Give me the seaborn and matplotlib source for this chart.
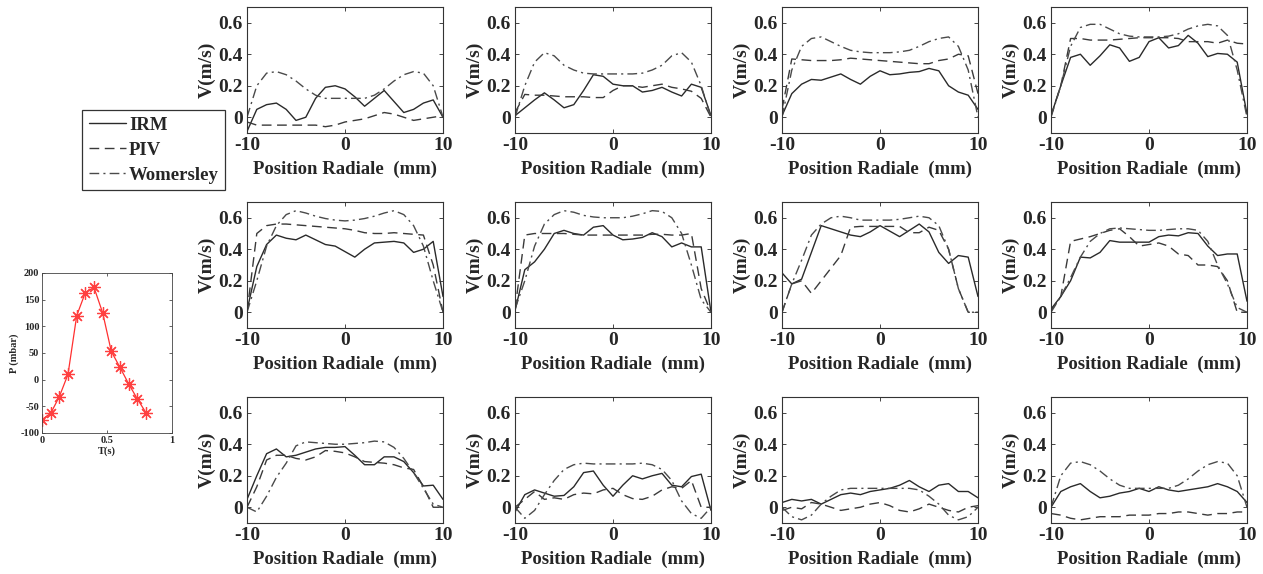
import numpy as np
import pandas as pd
import matplotlib
matplotlib.use("Agg")
import matplotlib.pyplot as plt
import seaborn as sns

# ---------------- data ----------------
X = [-10, -9, -8, -7, -6, -5, -4, -3, -2, -1, 0, 1, 2, 3, 4, 5, 6, 7, 8, 9, 10]

irm_1 = [-0.09, 0.05, 0.08, 0.09, 0.05, -0.02, 0.0, 0.12, 0.19, 0.2, 0.18, 0.13, 0.07, 0.12, 0.17, 0.1, 0.03, 0.05, 0.09, 0.11, 0.0]
piv_1 = [-0.03, -0.05, -0.05, -0.05, -0.05, -0.05, -0.05, -0.05, -0.06, -0.05, -0.03, -0.02, -0.01, 0.01, 0.03, 0.02, 0.0, -0.02, -0.01, 0.0, 0.01]
wom_1 = [0.0, 0.2, 0.28, 0.29, 0.27, 0.23, 0.18, 0.14, 0.12, 0.12, 0.12, 0.12, 0.12, 0.14, 0.18, 0.23, 0.27, 0.29, 0.28, 0.2, 0.0]

irm_2 = [0.01, 0.06, 0.11, 0.155, 0.11, 0.06, 0.08, 0.17, 0.27, 0.26, 0.21, 0.2, 0.2, 0.16, 0.17, 0.19, 0.16, 0.135, 0.21, 0.19, 0.01]
piv_2 = [0.03, 0.145, 0.14, 0.14, 0.135, 0.13, 0.13, 0.13, 0.125, 0.125, 0.17, 0.2, 0.2, 0.19, 0.2, 0.21, 0.19, 0.18, 0.165, 0.12, 0.0]
wom_2 = [0.0, 0.2, 0.35, 0.41, 0.39, 0.33, 0.3, 0.28, 0.275, 0.275, 0.275, 0.275, 0.275, 0.28, 0.3, 0.33, 0.39, 0.41, 0.35, 0.2, 0.0]

irm_3 = [0.01, 0.15, 0.21, 0.24, 0.235, 0.255, 0.275, 0.24, 0.21, 0.26, 0.295, 0.27, 0.275, 0.285, 0.29, 0.31, 0.295, 0.2, 0.16, 0.14, 0.05]
piv_3 = [0.05, 0.37, 0.365, 0.36, 0.36, 0.36, 0.365, 0.375, 0.37, 0.365, 0.36, 0.355, 0.35, 0.345, 0.34, 0.34, 0.36, 0.37, 0.4, 0.39, 0.15]
wom_3 = [0.0, 0.3, 0.45, 0.5, 0.51, 0.48, 0.45, 0.425, 0.415, 0.41, 0.41, 0.41, 0.415, 0.425, 0.45, 0.48, 0.5, 0.51, 0.45, 0.3, 0.0]

irm_4 = [0.01, 0.2, 0.38, 0.4, 0.33, 0.39, 0.46, 0.44, 0.355, 0.38, 0.48, 0.505, 0.44, 0.455, 0.52, 0.47, 0.385, 0.405, 0.4, 0.35, 0.02]
piv_4 = [0.01, 0.2, 0.5, 0.5, 0.49, 0.49, 0.49, 0.495, 0.5, 0.505, 0.505, 0.505, 0.505, 0.5, 0.48, 0.48, 0.48, 0.47, 0.49, 0.47, 0.465]
wom_4 = [0.0, 0.2, 0.45, 0.57, 0.59, 0.59, 0.56, 0.53, 0.515, 0.51, 0.51, 0.51, 0.515, 0.53, 0.56, 0.58, 0.59, 0.58, 0.52, 0.3, 0.0]

irm_5 = [0.01, 0.29, 0.43, 0.49, 0.47, 0.46, 0.49, 0.46, 0.43, 0.42, 0.385, 0.35, 0.4, 0.44, 0.445, 0.45, 0.44, 0.38, 0.4, 0.45, 0.1]
piv_5 = [0.0, 0.5, 0.55, 0.56, 0.56, 0.555, 0.55, 0.545, 0.54, 0.535, 0.53, 0.52, 0.505, 0.5, 0.5, 0.505, 0.5, 0.495, 0.49, 0.3, 0.0]
wom_5 = [0.0, 0.2, 0.42, 0.55, 0.62, 0.645, 0.63, 0.61, 0.595, 0.585, 0.58, 0.585, 0.595, 0.61, 0.63, 0.645, 0.62, 0.55, 0.42, 0.2, 0.0]

irm_6 = [0.01, 0.27, 0.32, 0.4, 0.5, 0.52, 0.5, 0.49, 0.54, 0.55, 0.49, 0.46, 0.465, 0.475, 0.505, 0.48, 0.415, 0.44, 0.415, 0.415, 0.0]
piv_6 = [0.02, 0.49, 0.5, 0.5, 0.5, 0.5, 0.495, 0.49, 0.49, 0.49, 0.49, 0.49, 0.49, 0.49, 0.495, 0.495, 0.49, 0.49, 0.5, 0.15, 0.0]
wom_6 = [0.02, 0.2, 0.42, 0.56, 0.62, 0.645, 0.635, 0.615, 0.605, 0.6, 0.6, 0.6, 0.61, 0.625, 0.645, 0.64, 0.6, 0.5, 0.3, 0.08, 0.0]

irm_7 = [0.25, 0.18, 0.21, 0.38, 0.55, 0.53, 0.51, 0.49, 0.48, 0.51, 0.55, 0.515, 0.48, 0.52, 0.56, 0.51, 0.38, 0.31, 0.36, 0.35, 0.1]
piv_7 = [0.0, 0.18, 0.2, 0.12, 0.2, 0.28, 0.36, 0.54, 0.545, 0.545, 0.545, 0.545, 0.545, 0.505, 0.505, 0.54, 0.52, 0.4, 0.15, 0.0, 0.0]
wom_7 = [0.0, 0.18, 0.33, 0.49, 0.56, 0.6, 0.61, 0.6, 0.585, 0.585, 0.585, 0.585, 0.59, 0.6, 0.61, 0.6, 0.55, 0.4, 0.15, 0.0, 0.0]

irm_8 = [0.02, 0.1, 0.2, 0.35, 0.345, 0.38, 0.455, 0.445, 0.445, 0.445, 0.445, 0.48, 0.49, 0.485, 0.505, 0.5, 0.42, 0.36, 0.37, 0.37, 0.07]
piv_8 = [0.01, 0.1, 0.45, 0.465, 0.48, 0.5, 0.52, 0.53, 0.48, 0.42, 0.43, 0.44, 0.42, 0.37, 0.36, 0.3, 0.3, 0.29, 0.2, 0.0, 0.0]
wom_8 = [0.0, 0.1, 0.22, 0.35, 0.45, 0.5, 0.53, 0.535, 0.53, 0.525, 0.52, 0.52, 0.525, 0.53, 0.53, 0.52, 0.45, 0.3, 0.18, 0.03, 0.0]

irm_9 = [0.05, 0.2, 0.34, 0.37, 0.32, 0.33, 0.35, 0.37, 0.38, 0.38, 0.385, 0.33, 0.27, 0.27, 0.32, 0.32, 0.29, 0.22, 0.135, 0.14, 0.05]
piv_9 = [0.0, 0.13, 0.3, 0.33, 0.33, 0.31, 0.3, 0.32, 0.36, 0.355, 0.345, 0.32, 0.29, 0.285, 0.28, 0.27, 0.25, 0.24, 0.13, 0.0, 0.0]
wom_9 = [0.0, -0.03, 0.07, 0.19, 0.28, 0.39, 0.415, 0.41, 0.405, 0.4, 0.4, 0.405, 0.41, 0.42, 0.415, 0.38, 0.31, 0.22, 0.12, 0.02, 0.0]

irm_10 = [-0.03, 0.08, 0.11, 0.09, 0.07, 0.075, 0.13, 0.22, 0.23, 0.14, 0.07, 0.14, 0.2, 0.18, 0.2, 0.215, 0.14, 0.13, 0.195, 0.21, -0.02]
piv_10 = [0.0, 0.05, 0.1, 0.05, 0.06, 0.05, 0.08, 0.09, 0.085, 0.11, 0.12, 0.08, 0.055, 0.05, 0.07, 0.11, 0.13, 0.12, 0.17, 0.0, 0.0]
wom_10 = [0.0, -0.07, -0.02, 0.08, 0.17, 0.24, 0.27, 0.28, 0.275, 0.275, 0.275, 0.275, 0.275, 0.28, 0.27, 0.24, 0.17, 0.04, -0.04, -0.07, 0.0]

irm_11 = [0.03, 0.05, 0.04, 0.05, 0.02, 0.05, 0.08, 0.09, 0.08, 0.1, 0.11, 0.12, 0.14, 0.17, 0.13, 0.1, 0.14, 0.15, 0.1, 0.1, 0.06]
piv_11 = [-0.02, 0.0, -0.01, 0.03, 0.02, 0.0, -0.02, -0.01, 0.0, 0.02, 0.03, 0.01, -0.02, -0.03, -0.01, 0.02, 0.0, -0.02, -0.03, 0.0, 0.01]
wom_11 = [0.0, -0.06, -0.08, -0.05, 0.02, 0.07, 0.11, 0.12, 0.12, 0.12, 0.12, 0.12, 0.12, 0.12, 0.11, 0.07, 0.02, -0.05, -0.08, -0.06, 0.0]

irm_12 = [0.0, 0.1, 0.13, 0.15, 0.1, 0.06, 0.07, 0.09, 0.1, 0.12, 0.1, 0.13, 0.11, 0.1, 0.11, 0.12, 0.13, 0.15, 0.13, 0.1, 0.03]
piv_12 = [-0.04, -0.05, -0.07, -0.08, -0.07, -0.06, -0.06, -0.06, -0.05, -0.05, -0.05, -0.04, -0.04, -0.03, -0.03, -0.04, -0.05, -0.04, -0.04, -0.03, -0.03]
wom_12 = [0.0, 0.2, 0.28, 0.29, 0.27, 0.23, 0.18, 0.14, 0.12, 0.12, 0.12, 0.12, 0.12, 0.14, 0.18, 0.23, 0.27, 0.29, 0.28, 0.2, 0.0]

IRM = [irm_1, irm_2, irm_3, irm_4, irm_5, irm_6, irm_7, irm_8, irm_9, irm_10, irm_11, irm_12]
PIV = [piv_1, piv_2, piv_3, piv_4, piv_5, piv_6, piv_7, piv_8, piv_9, piv_10, piv_11, piv_12]
WOM = [wom_1, wom_2, wom_3, wom_4, wom_5, wom_6, wom_7, wom_8, wom_9, wom_10, wom_11, wom_12]

series_names = ["IRM", "PIV", "Womersley"]

t_s = [0.0, 0.067, 0.133, 0.2, 0.267, 0.333, 0.4, 0.467, 0.533, 0.6, 0.667, 0.733, 0.8]
p_mbar = [-75, -63, -32, 10, 120, 163, 173, 125, 53, 23, -8, -36, -62]

yticks = [0, 0.2, 0.4, 0.6]
yticklabels = ["0", "0.2", "0.4", "0.6"]
xticks = [-10, 0, 10]
xticklabels = ["-10", "0", "10"]

# ---------------- style ----------------
sns.set_style("ticks")
plt.rcParams['font.family'] = ['Liberation Serif', 'DejaVu Serif']
plt.rcParams['font.weight'] = 'bold'
plt.rcParams['axes.labelweight'] = 'bold'
plt.rcParams['axes.unicode_minus'] = False

W, H = 1263, 574
fig = plt.figure(figsize=(W / 100, H / 100), dpi=100)

styles = {
    "IRM": dict(color="#2a2a2a", linestyle="-"),
    "PIV": dict(color="#3a3a3a", linestyle=(0, (7, 4))),
    "Womersley": dict(color="#4a4a4a", linestyle=(0, (7, 3, 1.5, 3))),
}

col_left = [247, 515, 782, 1051]
row_top = [7, 202, 397]
aw, ah = 196, 126

handles = []
for i in range(12):
    r, c = divmod(i, 4)
    ax = fig.add_axes([col_left[c] / W, 1 - (row_top[r] + ah) / H, aw / W, ah / H])
    df = pd.DataFrame({"x": X, "IRM": IRM[i], "PIV": PIV[i], "Womersley": WOM[i]})
    for name in series_names:
        sns.lineplot(data=df, x="x", y=name, ax=ax, estimator=None, sort=False,
                     lw=1.0, **styles[name])
    ax.set_xlim(-10, 10)
    ax.set_ylim(-0.1, 0.7)
    ax.set_xticks(xticks)
    ax.set_xticklabels(xticklabels)
    ax.set_yticks(yticks)
    ax.set_yticklabels(yticklabels)
    ax.tick_params(direction="in", top=True, right=True, length=3, width=0.6,
                   labelsize=14, pad=3)
    for lab in ax.get_xticklabels() + ax.get_yticklabels():
        lab.set_fontweight("bold")
    ax.set_xlabel("Position Radiale  (mm)", fontsize=13.5, fontweight="bold", labelpad=5)
    ax.set_ylabel("V(m/s)", fontsize=14, fontweight="bold", labelpad=2)
    for s in ax.spines.values():
        s.set_visible(True)
        s.set_linewidth(0.8)
        s.set_color("#333333")
    if i == 0:
        handles = ax.get_lines()[:3]

# legend
leg = fig.legend(handles, series_names, loc="upper left",
                 bbox_to_anchor=(82 / W, 1 - 110 / H), frameon=True, fancybox=False,
                 prop={"family": "Liberation Serif", "weight": "bold", "size": 13.5},
                 handlelength=2.0, handletextpad=0.15, borderpad=0.35, labelspacing=0.42,
                 borderaxespad=0)
leg.get_frame().set_edgecolor("black")
leg.get_frame().set_linewidth(0.9)

# pressure plot
axp = fig.add_axes([42 / W, 1 - 433 / H, 130 / W, 160 / H])
dfp = pd.DataFrame({"T": t_s, "P": p_mbar})
sns.lineplot(data=dfp, x="T", y="P", ax=axp, color="#ff3030", lw=0.9,
             marker=(8, 2, 0), markersize=9, markeredgecolor="#ff4040",
             markeredgewidth=0.9, estimator=None)
axp.set_xlim(0, 1)
axp.set_ylim(-100, 200)
axp.set_xticks([0, 0.5, 1])
axp.set_xticklabels(["0", "0.5", "1"])
axp.set_yticks([-100, -50, 0, 50, 100, 150, 200])
axp.set_yticklabels(["-100", "-50", "0", "50", "100", "150", "200"])
axp.tick_params(direction="in", top=True, right=True, length=2, width=0.5,
                labelsize=7.5, pad=2)
for lab in axp.get_xticklabels() + axp.get_yticklabels():
    lab.set_fontweight("bold")
axp.set_xlabel("T(s)", fontsize=7.5, fontweight="bold", labelpad=1)
axp.set_ylabel("P (mbar)", fontsize=7.5, fontweight="bold", labelpad=1)
for s in axp.spines.values():
    s.set_visible(True)
    s.set_linewidth(0.6)
    s.set_color("#444444")

fig.savefig("out.png", dpi=100)
